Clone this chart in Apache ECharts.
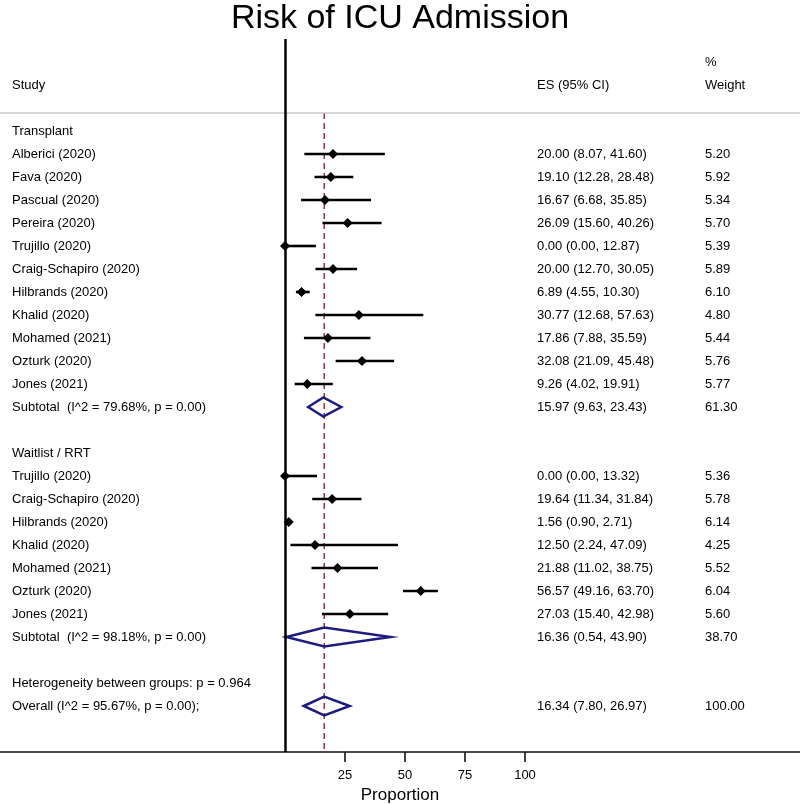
<!DOCTYPE html>
<html>
<head>
<meta charset="utf-8">
<script src="https://cdn.jsdelivr.net/npm/echarts@6/dist/echarts.min.js"></script>
<style>
html,body{margin:0;padding:0;background:#fff;}
#chart{width:800px;height:804px;}
</style>
</head>
<body>
<div id="chart"></div>
<script>
// ---------- data ----------
var chartTitle = 'Risk of ICU Admission';
var axisTitle = 'Proportion';
var tickValues = [25, 50, 75, 100];

var group1Name = 'Transplant';
var group1Studies = ['Alberici (2020)', 'Fava (2020)', 'Pascual (2020)', 'Pereira (2020)', 'Trujillo (2020)',
  'Craig-Schapiro (2020)', 'Hilbrands (2020)', 'Khalid (2020)', 'Mohamed (2021)', 'Ozturk (2020)', 'Jones (2021)'];
var group1ES = [20.00, 19.10, 16.67, 26.09, 0.00, 20.00, 6.89, 30.77, 17.86, 32.08, 9.26];
var group1Lo = [8.07, 12.28, 6.68, 15.60, 0.00, 12.70, 4.55, 12.68, 7.88, 21.09, 4.02];
var group1Hi = [41.60, 28.48, 35.85, 40.26, 12.87, 30.05, 10.30, 57.63, 35.59, 45.48, 19.91];
var group1W = [5.20, 5.92, 5.34, 5.70, 5.39, 5.89, 6.10, 4.80, 5.44, 5.76, 5.77];
var group1Sub = {label: 'Subtotal  (I^2 = 79.68%, p = 0.00)', es: 15.97, lo: 9.63, hi: 23.43, w: 61.30};

var group2Name = 'Waitlist / RRT';
var group2Studies = ['Trujillo (2020)', 'Craig-Schapiro (2020)', 'Hilbrands (2020)', 'Khalid (2020)',
  'Mohamed (2021)', 'Ozturk (2020)', 'Jones (2021)'];
var group2ES = [0.00, 19.64, 1.56, 12.50, 21.88, 56.57, 27.03];
var group2Lo = [0.00, 11.34, 0.90, 2.24, 11.02, 49.16, 15.40];
var group2Hi = [13.32, 31.84, 2.71, 47.09, 38.75, 63.70, 42.98];
var group2W = [5.36, 5.78, 6.14, 4.25, 5.52, 6.04, 5.60];
var group2Sub = {label: 'Subtotal  (I^2 = 98.18%, p = 0.00)', es: 16.36, lo: 0.54, hi: 43.90, w: 38.70};

var hetText = 'Heterogeneity between groups: p = 0.964';
var overall = {label: 'Overall (I^2 = 95.67%, p = 0.00);', es: 16.34, lo: 7.80, hi: 26.97, w: 100.00};

// ---------- build rows ----------
var rows = [];
function addGroup(name, studies, es, lo, hi, w, sub) {
  rows.push({type: 'group', label: name});
  for (var i = 0; i < studies.length; i++) {
    rows.push({type: 'study', label: studies[i], es: es[i], lo: lo[i], hi: hi[i], w: w[i]});
  }
  rows.push({type: 'sub', label: sub.label, es: sub.es, lo: sub.lo, hi: sub.hi, w: sub.w});
  rows.push({type: 'blank', label: ''});
}
addGroup(group1Name, group1Studies, group1ES, group1Lo, group1Hi, group1W, group1Sub);
addGroup(group2Name, group2Studies, group2ES, group2Lo, group2Hi, group2W, group2Sub);
rows.push({type: 'het', label: hetText});
rows.push({type: 'overall', label: overall.label, es: overall.es, lo: overall.lo, hi: overall.hi, w: overall.w});

function fmt(v) { return v.toFixed(2); }

var ciData = [], diamondData = [], textData = [];
rows.forEach(function (r, i) {
  var esText = '', wText = '';
  if (r.es !== undefined) {
    esText = fmt(r.es) + ' (' + fmt(r.lo) + ', ' + fmt(r.hi) + ')';
    wText = fmt(r.w);
  }
  textData.push([i, r.label, esText, wText]);
  if (r.type === 'study') ciData.push([r.es, i, r.lo, r.hi]);
  if (r.type === 'sub' || r.type === 'overall') diamondData.push([r.es, i, r.lo, r.hi]);
});
// headers
textData.push([-2, 'Study', 'ES (95% CI)', 'Weight']);
textData.push([-3, '', '', '%']);

var FONT = '"Liberation Sans", Arial, Helvetica, sans-serif';
var NAVY = '#1c1c80';
var RED = '#a02a3a';

var chart = echarts.init(document.getElementById('chart'), null, {renderer: 'canvas'});
var zeroPx = 285, pxPerUnit = 2.4, W = 800;
var xMin = -zeroPx / pxPerUnit, xMax = (W - zeroPx) / pxPerUnit;
var rowTop = -4, rowBottom = rows.length + 1;
var lineTopRow = -0.78;

var option = {
  animation: false,
  backgroundColor: '#ffffff',
  title: {
    text: chartTitle, left: 'center', top: 2, padding: 0,
    textStyle: {fontFamily: FONT, fontSize: 34, fontWeight: 'normal', color: '#000'}
  },
  grid: {left: 0, right: 0, top: 39, bottom: 52, containLabel: false, outerBoundsMode: 'none'},
  xAxis: {
    type: 'value', min: xMin, max: xMax,
    name: axisTitle, nameLocation: 'middle', nameGap: 33,
    nameTextStyle: {fontFamily: FONT, fontSize: 17, color: '#000'},
    axisLine: {show: true, onZero: false, lineStyle: {color: '#111', width: 1.6}},
    axisTick: {show: true, customValues: tickValues, length: 10, lineStyle: {color: '#111', width: 1.6}},
    axisLabel: {show: true, customValues: tickValues, margin: 17, fontFamily: FONT, fontSize: 13, color: '#000'},
    splitLine: {show: false}
  },
  yAxis: {
    type: 'value', min: rowTop, max: rowBottom, inverse: true, show: false,
    axisLine: {show: false}, splitLine: {show: false}
  },
  series: [
    {
      type: 'line', silent: true, symbol: 'none',
      data: [[overall.es, lineTopRow], [overall.es, rowBottom]],
      lineStyle: {color: RED, width: 1.5, type: [6, 4]},
      z: 1,
      markLine: {
        silent: true, symbol: 'none', label: {show: false},
        data: [
          {yAxis: lineTopRow, lineStyle: {color: '#c8c8c8', width: 1.5, type: 'solid'}},
          {xAxis: 0, lineStyle: {color: '#000', width: 2.5, type: 'solid'}}
        ]
      }
    },
    {
      type: 'custom', silent: true, z: 3,
      data: ciData,
      renderItem: function (params, api) {
        var es = api.value(0), row = api.value(1), lo = api.value(2), hi = api.value(3);
        var pLo = api.coord([lo, row]), pHi = api.coord([hi, row]), pE = api.coord([es, row]);
        var h = 5, w = 5;
        return {
          type: 'group',
          children: [
            {type: 'line', shape: {x1: pLo[0], y1: pLo[1], x2: pHi[0], y2: pHi[1]},
             style: {stroke: '#000', lineWidth: 2.6}},
            {type: 'polygon', shape: {points: [[pE[0] - w, pE[1]], [pE[0], pE[1] - h], [pE[0] + w, pE[1]], [pE[0], pE[1] + h]]},
             style: {fill: '#000', stroke: null}}
          ]
        };
      }
    },
    {
      type: 'custom', silent: true, z: 3,
      data: diamondData,
      renderItem: function (params, api) {
        var es = api.value(0), row = api.value(1), lo = api.value(2), hi = api.value(3);
        var pLo = api.coord([lo, row]), pHi = api.coord([hi, row]), pE = api.coord([es, row]);
        var h = 9.5;
        return {
          type: 'polygon',
          shape: {points: [[pLo[0], pLo[1]], [pE[0], pE[1] - h], [pHi[0], pHi[1]], [pE[0], pE[1] + h]]},
          style: {fill: 'none', stroke: NAVY, lineWidth: 2.5, lineJoin: 'miter'}
        };
      }
    },
    {
      type: 'custom', silent: true, z: 4,
      data: textData,
      renderItem: function (params, api) {
        var row = api.value(0);
        var y = api.coord([0, row])[1];
        var d = textData[params.dataIndex];
        var base = {fontFamily: FONT, fontSize: 13, fill: '#000', verticalAlign: 'middle', align: 'left'};
        function t(x, s) {
          return {type: 'text', x: x, y: y, style: Object.assign({text: s}, base)};
        }
        return {type: 'group', children: [t(12, d[1]), t(537, d[2]), t(705, d[3])]};
      }
    }
  ]
};
chart.setOption(option);
</script>
</body>
</html>
